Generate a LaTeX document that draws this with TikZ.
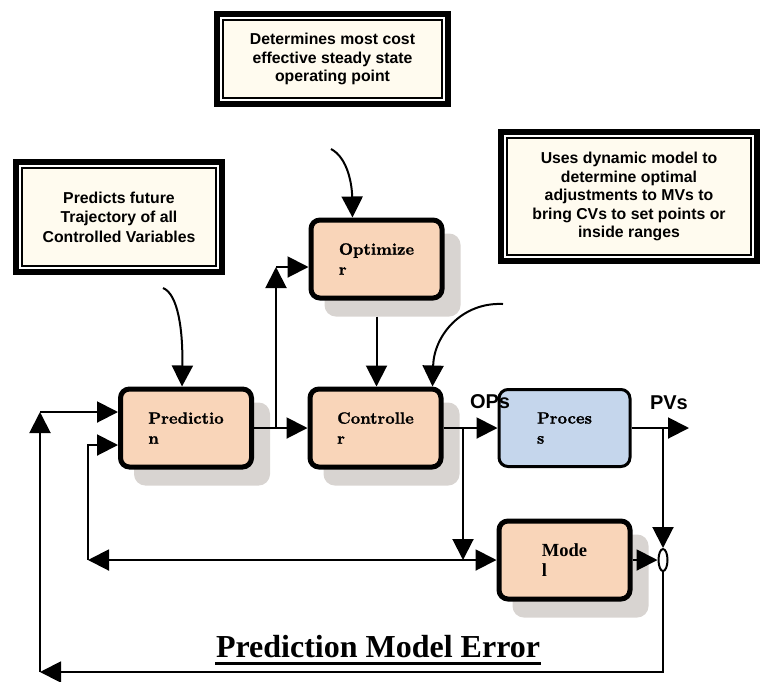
\documentclass[tikz,border=0pt]{standalone}
\usepackage{fontspec}
\usepackage{xcolor}
\usepackage{tikz}
\usetikzlibrary{arrows.meta,shapes.geometric,shadows,positioning}
\newfontfamily\notefont{Liberation Sans}
\newfontfamily\titlefont{Liberation Serif}
\newfontfamily\blockfont{lmroman10-bold}[Extension=.otf, FakeBold=1.2]
\definecolor{peach}{HTML}{F9D5B9}
\definecolor{procblue}{HTML}{C5D6EC}
\definecolor{shadowgray}{HTML}{D8D4D1}
\definecolor{cream}{HTML}{FFFBEF}

\begin{document}
\begin{tikzpicture}[x=1pt, y=-1pt, >={Triangle[length=21pt,width=21pt]}, line width=2pt,
    box/.style={rectangle, rounded corners=9pt, draw=black, fill=peach, line width=5pt,
        minimum width=131pt, minimum height=78pt, align=left, inner sep=0pt,
        font=\blockfont\fontsize{16.4}{20}\selectfont},
    block/.style={box, drop shadow={shadow xshift=16pt, shadow yshift=-16pt, fill=shadowgray,
        draw=shadowgray, line width=5pt, opacity=1}},
    procbox/.style={box, fill=procblue, line width=3pt, minimum height=77pt},
    note/.style={rectangle, draw=black, line width=6pt, fill=white, align=center, inner sep=0pt,
        font=\notefont\fontsize{15.8}{18.5}\selectfont\bfseries,
        path picture={\draw[line width=2pt, fill=cream]
            ([xshift=6pt,yshift=-6pt]path picture bounding box.north west) rectangle
            ([xshift=-6pt,yshift=6pt]path picture bounding box.south east);}},
    tag/.style={font=\notefont\fontsize{20}{20}\selectfont\bfseries, inner sep=0pt, anchor=base west}]
    \useasboundingbox (0,0) rectangle (768,681);

    \node[block] (pred) at (186,428) {Predictio\\n};
    \node[block] (ctrl) [right of=pred, node distance=189.5pt] {Controlle\\r};
    \node[block] (opt) [above of=ctrl, node distance=169pt, xshift=1pt] {Optimize\\r};
    \node[procbox] (proc) [right of=ctrl, node distance=189pt] {Proces\\s};
    \node[block, font=\titlefont\fontsize{18.5}{19.5}\selectfont\bfseries] (model) [below of=proc, node distance=132pt] {Mode\\l};
    \node[ellipse, draw, fill=white, minimum width=9pt, minimum height=22pt, inner sep=0pt] (err) [right of=model, node distance=98.5pt] {};

    \node[note, minimum width=206pt, minimum height=110pt] (tbpred) at (119,217) {Predicts future\\[1pt]Trajectory of all\\[1pt]Controlled Variables};
    \node[note, minimum width=231pt, minimum height=90pt] (tbopt) at (332.5,59) {Determines most cost\\effective steady state\\operating point};
    \node[note, minimum width=256pt, minimum height=129pt] (tbctrl) at (629,196.5) {Uses dynamic model to\\determine optimal\\adjustments to MVs to\\bring CVs to set points or\\inside ranges};

    \node[tag] (ops) at (469,408) {OPs};
    \node[tag] (pvs) at (649,409) {PVs};
    \node[font=\titlefont\fontsize{32}{36}\selectfont\bfseries, inner sep=0pt, anchor=base west] (title) at (215,657) {Prediction Model Error};
    \draw[line width=3pt] ([yshift=-6pt]title.base west) -- ([yshift=-6pt]title.base east);

    \coordinate (jpred) at (276,428);
    \coordinate (jopt) at (276,267);
    \coordinate (jctrl) at (463,428);
    \coordinate (jmod) at (463,560);
    \coordinate (jpv) at (663,428);
    \coordinate (pvend) at (689,428);
    \coordinate (fbl) at (88,560);
    \coordinate (fbt) at (88,445);
    \coordinate (errl) at (40,672);
    \coordinate (errt) at (40,412);
    \coordinate (cpred) at (163,288);
    \coordinate (copt) at (331,149);
    \coordinate (cctrl) at (503,304);

    \draw[->] (pred) -- (ctrl);
    \draw[->] (jpred) -- (jopt);
    \draw[->] (jopt) -- (opt.west |- jopt);
    \draw[->] ([yshift=-16pt]opt.south) -- (opt.south |- ctrl.north);
    \draw[->] (ctrl) -- (proc);
    \draw[->] (jctrl) -- (jmod);
    \draw[->] (jmod) -- (model);
    \draw[->] (jmod) -- (fbl);
    \draw[->] (fbl) |- (pred.west |- fbt);
    \draw[->] (proc) -- (pvend);
    \draw[->] (jpv) -- (err.north);
    \draw[->] (model) -- (err);
    \draw[->] (err.south) |- (errl);
    \draw[->] (errl) -- (errt);
    \draw[->] (errt) -- (pred.west |- errt);

    \draw[->] (cpred) .. controls (178,294) and (183,330) .. ([xshift=-4pt]pred.north);
    \draw[->] (copt) .. controls (348,158) and (352,185) .. ([xshift=-24pt]opt.north);
    \draw[->] (cctrl) .. controls (462,302) and (434,335) .. ([xshift=57pt]ctrl.north);
\end{tikzpicture}
\end{document}
